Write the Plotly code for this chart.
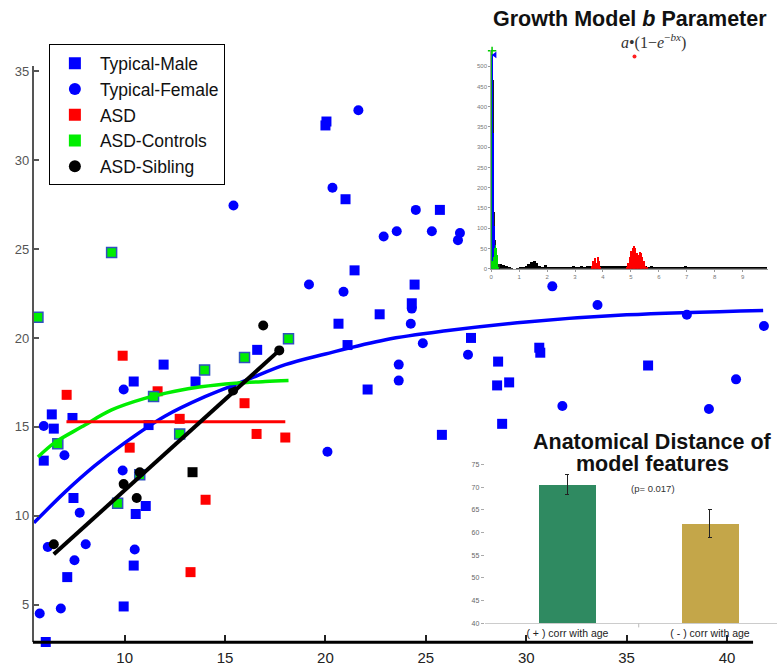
import plotly.graph_objects as go

FONT = "Liberation Sans, Arial, sans-serif"

# ---------------- main scatter: feature value vs age ----------------
male_x = [20.05, 20.0, 21.0, 25.7, 21.45, 24.44, 24.3, 22.7, 20.65, 21.1, 27.25, 22.1, 25.8,
          16.6, 11.94, 10.45, 13.53, 11.19, 30.65, 30.7, 28.6, 28.55, 29.15, 36.07, 28.8,
          6.37, 6.47, 5.97, 7.4, 7.45, 11.05, 10.55, 7.14, 5.47, 10.45, 9.95, 6.07]
male_y = [32.17, 31.95, 27.8, 27.2, 23.8, 23.0, 21.95, 21.33, 20.8, 19.6, 20.0, 17.1, 14.55,
          19.33, 18.5, 17.55, 17.55, 15.1, 19.45, 19.17, 18.67, 17.33, 17.5, 18.45, 15.17,
          15.7, 14.9, 13.1, 15.5, 11.0, 10.55, 10.1, 6.55, 7.17, 7.2, 4.9, 2.9]

female_x = [15.42, 23.88, 21.64, 20.35, 24.5, 22.9, 23.55, 25.3, 26.7, 26.6, 19.18, 20.9,
            24.3, 24.25, 24.85, 27.1, 23.65, 23.65, 20.1, 9.95, 31.3, 33.55, 38.0, 41.84,
            40.45, 31.8, 39.1, 5.97, 7.0, 9.9, 7.76, 6.17, 8.06, 10.5, 7.5, 5.77, 6.82]
female_y = [27.45, 35.3, 32.8, 28.45, 27.2, 25.7, 26.0, 26.0, 25.9, 25.5, 23.0, 22.6,
            21.65, 20.8, 19.7, 19.05, 18.5, 17.6, 13.6, 17.1, 22.9, 21.85, 21.3, 20.67,
            17.67, 16.17, 16.0, 15.05, 13.4, 12.55, 10.17, 8.24, 8.4, 8.1, 7.5, 4.5, 4.78]

asd_x = [9.9, 11.64, 12.74, 15.97, 16.57, 18.0, 10.25, 7.11, 14.03, 13.28]
asd_y = [19.0, 17.0, 15.45, 16.33, 14.6, 14.4, 13.83, 16.8, 10.9, 6.83]

ctrl_x = [5.68, 9.35, 15.97, 13.98, 18.16, 11.44, 12.74, 9.65, 10.75, 6.67]
ctrl_y = [21.17, 24.8, 18.9, 18.2, 19.95, 16.7, 14.6, 10.7, 12.3, 14.05]

sib_x = [6.47, 9.95, 10.6, 10.75, 15.4, 16.9, 17.7, 13.38]
sib_y = [8.4, 11.78, 11.0, 12.45, 17.05, 20.7, 19.3, 12.45]
sib_sym = ["circle"] * 7 + ["square"]

# fitted growth curves
typ_fit_x = [5.48, 7.0, 8.5, 10, 12, 14, 16, 18, 20, 23, 26, 30, 35, 41.8]
typ_fit_y = [9.6, 11.3, 12.8, 14.1, 15.6, 16.7, 17.6, 18.5, 19.1, 19.9, 20.4, 20.9, 21.3, 21.55]
ctrl_fit_x = [5.68, 6.5, 7.86, 9.35, 11.0, 12.5, 13.8, 15.5, 17.0, 18.16]
ctrl_fit_y = [13.3, 14.1, 15.0, 15.95, 16.6, 17.0, 17.25, 17.45, 17.55, 17.6]
asd_fit_x = [7.1, 18.0]
asd_fit_y = [15.28, 15.28]
sib_fit_x = [6.47, 17.7]
sib_fit_y = [7.83, 19.3]

x_ticks = [10, 15, 20, 25, 30, 35, 40]
y_ticks = [5, 10, 15, 20, 25, 30, 35]

# ---------------- inset: b-parameter histogram ----------------
bg_counts = [12, 10, 6, 2, 1, 0, 1, 2, 3, 6, 12, 16, 18, 13, 6, 4, 9, 4, 5, 4,
             5, 4, 5, 4, 5, 5, 6, 5, 5, 6, 5, 6, 7, 6, 7, 6, 7, 6, 7, 6,
             7, 6, 7, 8, 7, 8, 7, 8, 7, 6, 7, 6, 6, 5, 6, 5, 4, 5, 4, 5,
             4, 4, 5, 4, 4, 5, 6, 4, 4, 3, 4, 3, 4, 3, 4, 3, 4, 3, 5, 3,
             4, 5, 3, 4, 3, 4, 3, 4, 3, 4, 5, 3, 4, 3, 4, 3]
bg_centers = [round(0.35 + 0.1 * i, 2) for i in range(len(bg_counts))]

red_x = [3.625, 3.675, 3.725, 3.775, 3.825, 3.875, 3.925,
         4.875, 4.925, 4.975, 5.025, 5.075, 5.125, 5.175, 5.225, 5.275, 5.325,
         5.375, 5.425, 5.475, 5.525, 5.575]
red_y = [6, 18, 26, 14, 28, 20, 5,
         4, 14, 30, 45, 52, 57, 50, 40, 34, 42, 38, 30, 18, 8, 3]

spike_x = [0.0125, 0.0375, 0.0625, 0.0875, 0.1125, 0.1375, 0.1625, 0.1875,
           0.2125, 0.2375, 0.2625, 0.2875]
spike_black = [520, 505, 465, 300, 140, 70, 40, 25, 18, 14, 12, 12]
spike_blue = [240, 530, 335, 236, 105, 56, 30, 15, 8, 3, 0, 0]
spike_green = [540, 20, 10, 15, 30, 50, 58, 52, 35, 15, 4, 0]

hist_xticks = [0, 1, 2, 3, 4, 5, 6, 7, 8, 9]
hist_yticks = [0, 50, 100, 150, 200, 250, 300, 350, 400, 450, 500]

# ---------------- inset: anatomical distance bars ----------------
bar_labels = ["( + ) corr with age", "( - ) corr with age"]
bar_values = [70.6, 62.0]
bar_err = [2.2, 3.0]
bar_colors = ["#2f8a61", "#c4a649"]
bar_yticks = [40, 45, 50, 55, 60, 65, 70, 75]

W, H = 777, 666

fig = go.Figure()

# scatter points
fig.add_trace(go.Scatter(x=male_x, y=male_y, mode="markers", showlegend=False, cliponaxis=False,
                         marker=dict(symbol="square", size=10, color="#0000ff")))
fig.add_trace(go.Scatter(x=female_x, y=female_y, mode="markers", showlegend=False, cliponaxis=False,
                         marker=dict(symbol="circle", size=10, color="#0000ff")))
fig.add_trace(go.Scatter(x=asd_x, y=asd_y, mode="markers", showlegend=False, cliponaxis=False,
                         marker=dict(symbol="square", size=10, color="#ff0000")))
fig.add_trace(go.Scatter(x=ctrl_x, y=ctrl_y, mode="markers", showlegend=False, cliponaxis=False,
                         marker=dict(symbol="square", size=10, color="#00ee00",
                                     line=dict(color="#3050c0", width=1.5))))
fig.add_trace(go.Scatter(x=sib_x, y=sib_y, mode="markers", showlegend=False, cliponaxis=False,
                         marker=dict(symbol=sib_sym, size=10, color="#000000")))

# fit lines
fig.add_trace(go.Scatter(x=typ_fit_x, y=typ_fit_y, mode="lines", showlegend=False, cliponaxis=False,
                         line=dict(color="#0000ff", width=3.5, shape="spline")))
fig.add_trace(go.Scatter(x=ctrl_fit_x, y=ctrl_fit_y, mode="lines", showlegend=False,
                         line=dict(color="#00ee00", width=3.5, shape="spline")))
fig.add_trace(go.Scatter(x=asd_fit_x, y=asd_fit_y, mode="lines", showlegend=False,
                         line=dict(color="#ff0000", width=3)))
fig.add_trace(go.Scatter(x=sib_fit_x, y=sib_fit_y, mode="lines", showlegend=False,
                         line=dict(color="#000000", width=4)))

# legend entries
legend_items = [("Typical-Male", "square", "#0000ff"),
                ("Typical-Female", "circle", "#0000ff"),
                ("ASD", "square", "#ff0000"),
                ("ASD-Controls", "square", "#00ee00"),
                ("ASD-Sibling", "circle", "#000000")]
for name, sym, col in legend_items:
    fig.add_trace(go.Scatter(x=[None], y=[None], mode="markers", name=name,
                             marker=dict(symbol=sym, size=10, color=col)))

# histogram inset
fig.add_trace(go.Bar(x=bg_centers, y=bg_counts, width=0.1, marker=dict(color="#000000", line=dict(width=0)),
                     xaxis="x2", yaxis="y2", showlegend=False))
fig.add_trace(go.Bar(x=spike_x, y=spike_black, width=0.025, marker=dict(color="#222222", line=dict(width=0)),
                     xaxis="x2", yaxis="y2", showlegend=False))
fig.add_trace(go.Bar(x=spike_x, y=spike_blue, width=0.025, marker=dict(color="#0000ff", line=dict(width=0)),
                     xaxis="x2", yaxis="y2", showlegend=False))
fig.add_trace(go.Bar(x=spike_x, y=spike_green, width=0.025, marker=dict(color="#00dd00", line=dict(width=0)),
                     xaxis="x2", yaxis="y2", showlegend=False))
fig.add_trace(go.Bar(x=red_x, y=red_y, width=0.05, marker=dict(color="#ff0000", line=dict(width=0)),
                     xaxis="x2", yaxis="y2", showlegend=False))
fig.add_trace(go.Scatter(x=[0.03], y=[538], mode="markers", xaxis="x2", yaxis="y2", showlegend=False,
                         cliponaxis=False,
                         marker=dict(symbol="cross-thin", size=6, line=dict(color="#00cc00", width=1.5))))
fig.add_trace(go.Scatter(x=[0.13], y=[528], mode="markers", xaxis="x2", yaxis="y2", showlegend=False,
                         cliponaxis=False,
                         marker=dict(symbol="triangle-left", size=6, color="#0000ff")))
fig.add_trace(go.Scatter(x=[5.13], y=[524], mode="markers", xaxis="x2", yaxis="y2", showlegend=False,
                         cliponaxis=False,
                         marker=dict(symbol="circle", size=4, color="#ff2020")))

# bar inset
fig.add_trace(go.Bar(x=[0, 1], y=bar_values, width=0.4, marker=dict(color=bar_colors, line=dict(width=0)),
                     error_y=dict(type="data", array=bar_err, color="#222222", thickness=1, width=2),
                     xaxis="x3", yaxis="y3", showlegend=False))

x0, x1 = 5.48, 42.49
fig.update_layout(
    width=W, height=H,
    margin=dict(l=0, r=0, t=0, b=0),
    paper_bgcolor="white", plot_bgcolor="rgba(0,0,0,0)",
    barmode="overlay", bargap=0,
    font=dict(family=FONT),
    showlegend=True,
    legend=dict(x=47 / W, y=1 - 43 / H, xanchor="left", yanchor="top",
                bgcolor="white", bordercolor="#000000", borderwidth=1,
                font=dict(size=17.5, color="#111111", family=FONT),
                itemsizing="constant", itemwidth=40, tracegroupgap=0),
    xaxis=dict(domain=[32 / W, 1], range=[x0, x1], tickvals=x_ticks,
               ticks="inside", ticklen=7, tickwidth=1.5, tickcolor="#222222",
               showline=False, showgrid=False, zeroline=False, ticklabelstandoff=5,
               tickfont=dict(size=15, color="#222222", family=FONT)),
    yaxis=dict(domain=[1 - 648 / H, 1 - 65 / H], range=[2.889, 35.28], tickvals=y_ticks,
               ticks="inside", ticklen=5, tickwidth=1.5, tickcolor="#555555",
               showline=True, linecolor="#555555", linewidth=2,
               showgrid=False, zeroline=False,
               tickfont=dict(size=13, color="#555555", family=FONT)),
    xaxis2=dict(domain=[490.5 / W, 767.7 / W], range=[0, 9.9], anchor="y2",
                tickvals=hist_xticks, ticks="outside", ticklen=2, tickcolor="#999999",
                showline=True, linecolor="#999999", linewidth=1, showgrid=False, zeroline=False,
                tickfont=dict(size=6, color="#777777", family=FONT)),
    yaxis2=dict(domain=[1 - 270 / H, 1 - 48.6 / H], range=[0, 540], anchor="x2",
                tickvals=hist_yticks, ticks="outside", ticklen=2, tickcolor="#999999",
                showline=True, linecolor="#999999", linewidth=1, showgrid=False, zeroline=False,
                tickfont=dict(size=6, color="#777777", family=FONT)),
    xaxis3=dict(domain=[484 / W, 1], range=[-0.58, 1.47], anchor="y3",
                tickvals=[0, 1], ticktext=bar_labels, ticks="",
                showline=True, linecolor="#cccccc", linewidth=1, showgrid=False, zeroline=False,
                tickfont=dict(size=10.5, color="#222222", family=FONT)),
    yaxis3=dict(domain=[1 - 629 / H, 1 - 463.4 / H], range=[40, 76], anchor="x3",
                tickvals=bar_yticks, ticks="outside", ticklen=3, tickcolor="#aaaaaa",
                showline=False, showgrid=False, zeroline=False,
                tickfont=dict(size=7, color="#666666", family=FONT)),
    shapes=[
        # bottom axis line of the main plot
        dict(type="line", xref="paper", yref="paper", x0=31 / W, x1=753 / W,
             y0=1 - 648 / H, y1=1 - 648 / H, line=dict(color="#000000", width=3)),
        # divider tick between the two bar categories
        dict(type="line", xref="x3", yref="paper", x0=0.5, x1=0.5,
             y0=1 - 629 / H, y1=1 - 633 / H, line=dict(color="#bbbbbb", width=1)),
    ],
    annotations=[
        dict(text="<b>Growth Model <i>b</i> Parameter</b>", x=630 / W, y=1 - 17 / H,
             xref="paper", yref="paper", showarrow=False, xanchor="center", yanchor="middle",
             font=dict(size=21.5, color="#111111", family=FONT)),
        dict(text="<i>a</i>\u2022(1\u2212<i>e</i><sup>\u2212<i>bx</i></sup>)", x=653 / W, y=1 - 40 / H,
             xref="paper", yref="paper", showarrow=False, xanchor="center", yanchor="middle",
             font=dict(size=16, color="#333333", family="Liberation Serif, serif")),
        dict(text="<b>Anatomical Distance of</b>", x=652 / W, y=1 - 445 / H,
             xref="paper", yref="paper", showarrow=False, xanchor="center", yanchor="middle",
             font=dict(size=21.5, color="#111111", family=FONT)),
        dict(text="<b>model features</b>", x=652 / W, y=1 - 468 / H,
             xref="paper", yref="paper", showarrow=False, xanchor="center", yanchor="middle",
             font=dict(size=21.5, color="#111111", family=FONT)),
        dict(text="(p= 0.017)", x=653 / W, y=1 - 492 / H,
             xref="paper", yref="paper", showarrow=False, xanchor="center", yanchor="middle",
             font=dict(size=9.5, color="#333333", family=FONT)),
    ],
)

fig.write_html("out.html")
